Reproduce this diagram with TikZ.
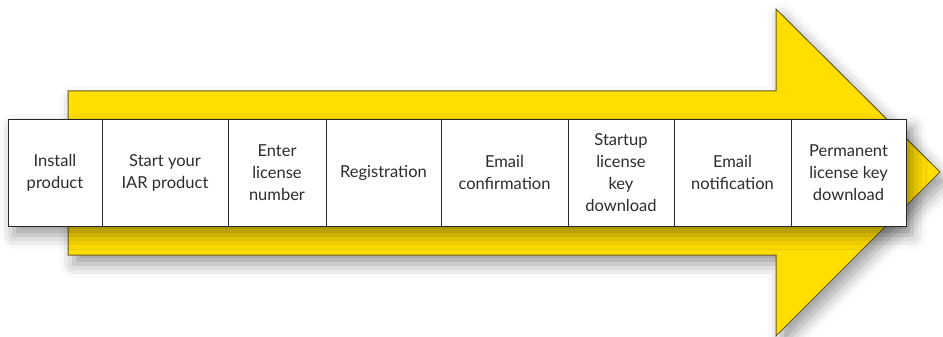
\documentclass[tikz,border=0pt]{standalone}
\usepackage{fontspec}
\setmainfont{Lato}
\usetikzlibrary{shadows.blur}
\definecolor{arrowyellow}{RGB}{255,222,0}
\definecolor{arrowedge}{RGB}{105,90,35}
\definecolor{celltext}{RGB}{45,45,45}
\tikzset{
  softshadow/.style={blur shadow={shadow xshift=6pt, shadow yshift=-9pt, shadow blur radius=14pt, shadow opacity=40}},
  stepcell/.style={draw=black!85, line width=1pt, fill=white, align=center, inner sep=0pt,
    minimum height=107, text=celltext, font=\fontsize{16.5}{22}\selectfont},
}
\begin{document}
\begin{tikzpicture}[x=1pt,y=-1pt]
  \useasboundingbox (0,0) rectangle (943,337);
  % big arrow
  \draw[arrowedge, line width=1pt, fill=arrowyellow, softshadow]
    (68,91) -- (776,91) -- (776,9) -- (940,172) -- (776,336) -- (776,255) -- (68,255) -- cycle;
  % shadow of the row of steps
  \fill[white, softshadow] (8,119) rectangle (906,226);
  % steps
  \node[stepcell, minimum width=94]  (install)  at (55,172.5)    {Install\\product};
  \node[stepcell, minimum width=126] (start)    at (165,172.5)   {Start your\\IAR product};
  \node[stepcell, minimum width=98]  (enter)    at (277,172.5)   {Enter\\license\\number};
  \node[stepcell, minimum width=115] (register) at (383.5,172.5) {Registration};
  \node[stepcell, minimum width=127] (confirm)  at (504.5,172.5) {Email\\confirmation};
  \node[stepcell, minimum width=106] (startkey) at (621,172.5)   {Startup\\license\\key\\download};
  \node[stepcell, minimum width=117] (notify)   at (732.5,172.5) {Email\\notification};
  \node[stepcell, minimum width=115] (permkey)  at (848.5,172.5) {Permanent\\license key\\download};
\end{tikzpicture}
\end{document}
